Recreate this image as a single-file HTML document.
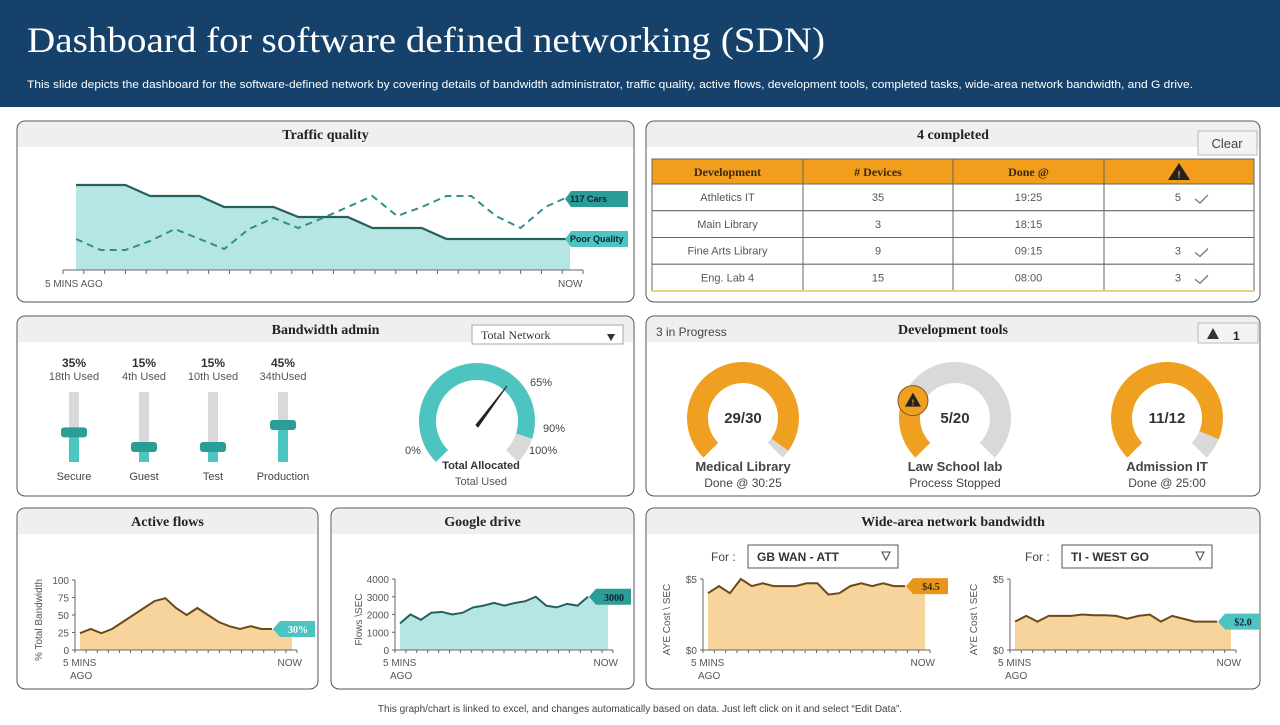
<!DOCTYPE html>
<html><head><meta charset="utf-8"><style>
body{margin:0;width:1280px;height:720px;overflow:hidden;background:#fff;font-family:"Liberation Sans",sans-serif}
svg text{font-family:"Liberation Sans",sans-serif}
</style></head><body>
<svg id="s" width="1280" height="720" viewBox="0 0 1280 720" xmlns="http://www.w3.org/2000/svg">
<rect x="0" y="0" width="1280" height="107" fill="#15416b"/>
<text x="27" y="52" font-size="36" fill="#fff" textLength="798" lengthAdjust="spacingAndGlyphs" style="font-family:'Liberation Serif',serif">Dashboard for software defined networking (SDN)</text>
<text x="27" y="88" font-size="11" fill="#fff" textLength="1166" lengthAdjust="spacingAndGlyphs">This slide depicts the dashboard for the software-defined network by covering details of bandwidth administrator, traffic quality, active flows, development tools, completed tasks, wide-area network bandwidth, and G drive.</text>
<text x="640" y="712" font-size="10" fill="#444" text-anchor="middle">This graph/chart is linked to excel, and changes automatically based on data. Just left click on it and select “Edit Data”.</text>
<g id="panels"></g>
<g id="content"></g>
</svg>
<script>
// ---- data ----
const trafficX = 21;
const trafficQuality = [85,85,85,74,74,74,63,63,63,53,53,53,42,42,42,31,31,31,31,31,31];
const trafficCars = [31,20,20,29,41,31,21,41,52,42,52,63,74,54,63,74,74,54,42,63,74];
const tableRows = [["Athletics IT","35","19:25","5"],["Main Library","3","18:15",""],["Fine Arts Library","9","09:15","3"],["Eng. Lab 4","15","08:00","3"]];
const sliderNames = ["Secure","Guest","Test","Production"];
const sliderPct = [35,15,15,45];
const sliderUsed = ["18th Used","4th Used","10th Used","34thUsed"];
const gaugeAllocated = 90;
const gaugeNeedle = 65;
const devNames = ["Medical Library","Law School lab","Admission  IT"];
const devSub = ["Done @ 30:25","Process Stopped","Done @ 25:00"];
const devDone = [29,5,11];
const devTotal = [30,20,12];
const activeFlows = [24,30,24,30,40,50,60,70,74,60,50,60,50,40,34,30,34,30,30];
const gdrive = [1500,2000,1700,2100,2150,2000,2100,2400,2500,2650,2500,2650,2750,3000,2500,2400,2600,2500,3000];
const wan1 = [4,4.5,4,5,4.5,4.7,4.5,4.5,4.5,4.7,4.7,3.9,4,4.5,4.7,4.5,4.7,4.5,4.5];
const wan2 = [2,2.4,2,2.4,2.4,2.4,2.5,2.45,2.45,2.4,2.2,2.4,2.5,2,2.4,2.2,2,2,2];
const afTicks = [0,25,50,75,100];
const gdTicks = [0,1000,2000,3000,4000];

const NS="http://www.w3.org/2000/svg";
function mk(tag,attrs,parent,txt){const e=document.createElementNS(NS,tag);for(const k in attrs)e.setAttribute(k,attrs[k]);if(txt!==undefined)e.textContent=txt;(parent||document.getElementById('content')).appendChild(e);return e;}
const P=document.getElementById('panels');

function panel(x,y,w,h,title,name){
  const g=mk('g',{},P);
  
  
  mk('rect',{x:x,y:y,width:w,height:h,rx:8,fill:'#fff',stroke:'#555','stroke-width':1},g);
  mk('path',{d:`M${x+1} ${y+26} L${x+1} ${y+8} Q${x+1} ${y+1} ${x+8} ${y+1} L${x+w-8} ${y+1} Q${x+w-1} ${y+1} ${x+w-1} ${y+8} L${x+w-1} ${y+26} Z`,fill:'#efefef'},g);
  const t=mk('text',{x:x+w/2,y:y+18,'font-size':14,'font-weight':'bold','text-anchor':'middle',fill:'#222',style:"font-family:'Liberation Serif',serif"},g,title);
  
  
}
panel(17,121,617,181,'Traffic quality','traffic-quality-panel');
panel(646,121,614,181,'4 completed','completed-panel');
panel(17,316,617,180,'Bandwidth admin','bandwidth-admin-panel');
panel(646,316,614,180,'Development tools','development-tools-panel');
panel(17,508,301,181,'Active flows','active-flows-panel');
panel(331,508,303,181,'Google drive','google-drive-panel');
panel(646,508,614,181,'Wide-area network bandwidth','wan-bandwidth-panel');

// ---- traffic quality ----
(function(){
  const x0=76,x1=570,y0=270,sc=1;
  const xs=i=>x0+(x1-x0)*i/(trafficX-1), ys=v=>y0-v*sc;
  let d=`M${xs(0)} ${y0}`;trafficQuality.forEach((v,i)=>d+=` L${xs(i)} ${ys(v)}`);d+=` L${xs(trafficX-1)} ${y0} Z`;
  const a=mk('path',{d:d,fill:'#b6e6e4'});
  
  
  const l=mk('polyline',{points:trafficQuality.map((v,i)=>xs(i)+','+ys(v)).join(' '),fill:'none',stroke:'#25605e','stroke-width':2.2});
  
  
  const c=mk('polyline',{points:trafficCars.map((v,i)=>xs(i)+','+ys(v)).join(' '),fill:'none',stroke:'#2f8f8c','stroke-width':2,'stroke-dasharray':'7,5'});
  
  
  mk('line',{x1:63,y1:270,x2:583,y2:270,stroke:'#666'});
  for(let i=0;i<=25;i++){mk('line',{x1:63+i*20.8,y1:270,x2:63+i*20.8,y2:274,stroke:'#666'});}
  const t1=mk('text',{x:45,y:287,'font-size':10,fill:'#555'},null,'5 MINS AGO');
  
  
  const t2=mk('text',{x:558,y:287,'font-size':10,fill:'#555'},null,'NOW');
  
  
  function tag(y,txt,col,name){const g=mk('g',{});
    mk('path',{d:`M565 ${y} L571 ${y-8} L628 ${y-8} L628 ${y+8} L571 ${y+8} Z`,fill:col},g);
    mk('text',{x:570,y:y+3,'font-size':9,'font-weight':'bold',fill:'#123'},g,txt);}
  tag(ys(trafficCars[trafficX-1])+3,'117 Cars','#2a9d96','cars-tag');
  tag(ys(trafficQuality[trafficX-1]),'Poor Quality','#4dc4c0','poor-quality-tag');
})();

// ---- table ----
(function(){
  const cols=[652,803,953,1104,1254];
  const clr=mk('g',{});
  mk('rect',{x:1198,y:131,width:59,height:24,fill:'#f3f3f3',stroke:'#bbb'},clr);
  mk('text',{x:1227,y:148,'font-size':13,fill:'#444','text-anchor':'middle'},clr,'Clear');
  mk('rect',{x:652,y:159,width:602,height:25,fill:'#f29d1c',stroke:'#666'});
  const hd=['Development','# Devices','Done @'];
  hd.forEach((h,i)=>{const t=mk('text',{x:(cols[i]+cols[i+1])/2,y:176,'font-size':12,'font-weight':'bold','text-anchor':'middle',fill:'#3a2a10',style:"font-family:'Liberation Serif',serif"},null,h);
    });
  mk('path',{d:'M1179 163 L1190 180 L1168 180 Z',fill:'#222'});
  mk('text',{x:1179,y:178,'font-size':10,'font-weight':'bold','text-anchor':'middle',fill:'#f29d1c'},null,'!');
  tableRows.forEach((r,j)=>{const y=184+j*26.75;
    const g=mk('g',{});
    mk('rect',{x:652,y:y,width:602,height:26.75,fill:'#fff',stroke:'#666'},g);
    for(let i=0;i<3;i++)mk('text',{x:(cols[i]+cols[i+1])/2,y:y+17,'font-size':11,'text-anchor':'middle',fill:'#555'},g,r[i]);
    if(r[3]){mk('text',{x:1181,y:y+17,'font-size':11,'text-anchor':'end',fill:'#555'},g,r[3]);
      mk('path',{d:`M1195 ${y+15} L1200 ${y+19} L1208 ${y+11}`,fill:'none',stroke:'#777','stroke-width':1.3},g);}
  });
  for(let i=1;i<4;i++)mk('line',{x1:cols[i],y1:159,x2:cols[i],y2:291,stroke:'#666'});
  mk('line',{x1:652,y1:291,x2:1254,y2:291,stroke:'#f0d080','stroke-width':2});
})();

// ---- bandwidth admin ----
(function(){
  const dd=mk('g',{});
  mk('rect',{x:472,y:325,width:151,height:19,fill:'#fff',stroke:'#aaa'},dd);
  mk('text',{x:481,y:339,'font-size':12,fill:'#333',style:"font-family:'Liberation Serif',serif"},dd,'Total Network');
  mk('path',{d:'M607 334 L615 334 L611 341 Z',fill:'#333'},dd);
  const cx=[74,144,213,283];
  sliderPct.forEach((p,i)=>{
    const g=mk('g',{});
    mk('text',{x:cx[i],y:367,'font-size':12,'font-weight':'bold','text-anchor':'middle',fill:'#333'},g,p+'%');
    mk('text',{x:cx[i],y:380,'font-size':11,'text-anchor':'middle',fill:'#555'},g,sliderUsed[i]);
    mk('rect',{x:cx[i]-5,y:392,width:10,height:70,fill:'#d9d9d9'},g);
    const yc=Math.min(447, 462-15-(p-15)*(447-425)/30);
    mk('rect',{x:cx[i]-5,y:yc,width:10,height:462-yc,fill:'#4dc4c0'},g);
    mk('rect',{x:cx[i]-13,y:yc-5,width:26,height:10,rx:3,fill:'#2a9d96'},g);
    mk('text',{x:cx[i],y:480,'font-size':11,'text-anchor':'middle',fill:'#444'},g,sliderNames[i]);
  });
  const gx=477,gy=421,ro=58,ri=41;
  function arc(p0,p1,col,name){const a0=(225-270*p0)*Math.PI/180,a1=(225-270*p1)*Math.PI/180;
    const large=(p1-p0)*270>180?1:0;
    const P=(r,a)=>(gx+r*Math.cos(a))+' '+(gy-r*Math.sin(a));
    const e=mk('path',{d:`M${P(ro,a0)} A${ro} ${ro} 0 ${large} 1 ${P(ro,a1)} L${P(ri,a1)} A${ri} ${ri} 0 ${large} 0 ${P(ri,a0)} Z`,fill:col});
    }
  arc(0,gaugeAllocated/100,'#4dc4c0','gauge-allocated');
  arc(gaugeAllocated/100,1,'#d9d9d9','gauge-remaining');
  const na=(225-270*gaugeNeedle/100)*Math.PI/180;
  const nd=mk('path',{d:`M${gx+1} ${gy+6} L${gx+46*Math.cos(na)} ${gy-46*Math.sin(na)} L${gx-1} ${gy+4} Z`,fill:'#222',stroke:'#222','stroke-width':1});
  
  mk('text',{x:530,y:386,'font-size':11,fill:'#444'},null,gaugeNeedle+'%');
  mk('text',{x:543,y:432,'font-size':11,fill:'#444'},null,gaugeAllocated+'%');
  mk('text',{x:529,y:454,'font-size':11,fill:'#444'},null,'100%');
  mk('text',{x:405,y:454,'font-size':11,fill:'#444'},null,'0%');
  mk('text',{x:481,y:469,'font-size':11,'font-weight':'bold','text-anchor':'middle',fill:'#333'},null,'Total Allocated');
  mk('text',{x:481,y:485,'font-size':11,'text-anchor':'middle',fill:'#555'},null,'Total Used');
})();

// ---- dev tools ----
(function(){
  mk('text',{x:656,y:336,'font-size':12,fill:'#444'},null,'3 in Progress');
  const w=mk('g',{});
  mk('rect',{x:1198,y:323,width:60,height:20,fill:'#f3f3f3',stroke:'#bbb'},w);
  mk('path',{d:'M1213 328 L1219 339 L1207 339 Z',fill:'#333'},w);
  mk('text',{x:1233,y:340,'font-size':12,'font-weight':'bold',fill:'#222'},w,'1');
  const cx=[743,955,1167],gy=418,ro=56,ri=35;
  devDone.forEach((dn,i)=>{
    const g=mk('g',{});
    const gx=cx[i];const p=dn/devTotal[i];
    const P=(r,a)=>(gx+r*Math.cos(a))+' '+(gy-r*Math.sin(a));
    function arc(p0,p1,col){const a0=(225-270*p0)*Math.PI/180,a1=(225-270*p1)*Math.PI/180;const large=(p1-p0)*270>180?1:0;
      mk('path',{d:`M${P(ro,a0)} A${ro} ${ro} 0 ${large} 1 ${P(ro,a1)} L${P(ri,a1)} A${ri} ${ri} 0 ${large} 0 ${P(ri,a0)} Z`,fill:col},g);}
    arc(0,p,'#f0a020');arc(p,1,'#d9d9d9');
    mk('text',{x:gx,y:423,'font-size':15,'font-weight':'bold','text-anchor':'middle',fill:'#333'},g,dn+'/'+devTotal[i]);
    mk('text',{x:gx,y:471,'font-size':13,'font-weight':'bold','text-anchor':'middle',fill:'#444'},g,devNames[i]);
    mk('text',{x:gx,y:487,'font-size':12,'text-anchor':'middle',fill:'#444'},g,devSub[i]);
    if(devDone[i]/devTotal[i]<0.5){const a=(225-270*p)*Math.PI/180;const wx=gx+(ro+ri)/2*Math.cos(a),wy=gy-(ro+ri)/2*Math.sin(a);
      mk('circle',{cx:wx,cy:wy,r:15,fill:'#f0a020',stroke:'#7a5a20'},g);
      mk('path',{d:`M${wx} ${wy-8} L${wx+8} ${wy+6} L${wx-8} ${wy+6} Z`,fill:'#222'},g);
      mk('text',{x:wx,y:wy+5,'font-size':8,'font-weight':'bold','text-anchor':'middle',fill:'#f0a020'},g,'!');}
  });
})();

// ---- small area charts ----
function area(cfg){
  const {vals,ax,x0,x1,xe,y0,y1,max,fill,line,ticks,tickFmt,ylabel,tag,tagCol,tagTxt,name}=cfg;
  const xs=i=>x0+(x1-x0)*i/(vals.length-1), ys=v=>y0-(y0-y1)*v/max;
  let d=`M${x0} ${y0}`;vals.forEach((v,i)=>d+=` L${xs(i)} ${ys(v)}`);d+=` L${xe} ${ys(vals[vals.length-1])} L${xe} ${y0} Z`;
  const a=mk('path',{d:d,fill:fill});
  const l=mk('polyline',{points:vals.map((v,i)=>xs(i)+','+ys(v)).join(' '),fill:'none',stroke:line,'stroke-width':2});
  
  mk('line',{x1:ax,y1:y1,x2:ax,y2:y0,stroke:'#666'});
  mk('line',{x1:ax,y1:y0,x2:xe+5,y2:y0,stroke:'#666'});
  for(let i=0;i<=20;i++){const x=ax+(xe+5-ax)*i/20;mk('line',{x1:x,y1:y0,x2:x,y2:y0+3,stroke:'#666'});}
  ticks.forEach(t=>{mk('line',{x1:ax-3,y1:ys(t),x2:ax,y2:ys(t),stroke:'#666'});
    const tt=mk('text',{x:ax-6,y:ys(t)+4,'font-size':10,'text-anchor':'end',fill:'#555'},null,tickFmt(t));
    });
  const yl=mk('text',{x:0,y:0,'font-size':10,'text-anchor':'middle',fill:'#555',transform:`translate(${ax-33},${(y0+y1)/2+5}) rotate(-90)`},null,ylabel);
  
  mk('text',{x:ax-12,y:y0+16,'font-size':10,fill:'#555'},null,'5 MINS');
  mk('text',{x:ax-5,y:y0+29,'font-size':10,fill:'#555'},null,'AGO');
  mk('text',{x:xe+10,y:y0+16,'font-size':10,'text-anchor':'end',fill:'#555'},null,'NOW');
  const ty=ys(vals[vals.length-1]);const tx=xs(vals.length-1)+1;
  const g=mk('g',{});
  mk('path',{d:`M${tx} ${ty} L${tx+7} ${ty-8} L${tx+42} ${ty-8} L${tx+42} ${ty+8} L${tx+7} ${ty+8} Z`,fill:tagCol},g);
  mk('text',{x:tx+25,y:ty+4,'font-size':10,'font-weight':'bold','text-anchor':'middle',fill:tag,style:"font-family:'Liberation Serif',serif"},g,tagTxt);
}
area({vals:activeFlows,ax:75,x0:80,x1:272,xe:292,y0:650,y1:580,max:100,fill:'#f6d49c',line:'#6b4a1a',ticks:afTicks,tickFmt:t=>t,ylabel:'% Total Bandwidth',tag:'#fff',tagCol:'#4dc4c0',tagTxt:activeFlows[activeFlows.length-1]+'%',name:'active-flows'});
area({vals:gdrive,ax:395,x0:400,x1:588,xe:608,y0:650,y1:579,max:4000,fill:'#b6e6e4',line:'#25605e',ticks:gdTicks,tickFmt:t=>t,ylabel:'Flows \\SEC',tag:'#123',tagCol:'#2a9d96',tagTxt:gdrive[gdrive.length-1],name:'google-drive'});
area({vals:wan1,ax:703,x0:708,x1:905,xe:925,y0:650,y1:579,max:5,fill:'#f6d49c',line:'#6b4a1a',ticks:[0,5],tickFmt:t=>'$'+t,ylabel:'AYE Cost \\ SEC',tag:'#3a2a10',tagCol:'#e8961a',tagTxt:'$'+wan1[wan1.length-1].toFixed(1),name:'wan-att'});
area({vals:wan2,ax:1010,x0:1015,x1:1217,xe:1231,y0:650,y1:579,max:5,fill:'#f6d49c',line:'#6b4a1a',ticks:[0,5],tickFmt:t=>'$'+t,ylabel:'AYE Cost \\ SEC',tag:'#123',tagCol:'#4dc4c0',tagTxt:'$'+wan2[wan2.length-1].toFixed(1),name:'wan-west'});
[[748,'GB WAN - ATT',711],[1062,'TI - WEST GO',1025]].forEach(([x,t,fx],i)=>{
  mk('text',{x:fx,y:561,'font-size':12,fill:'#444'},null,'For :');
  const g=mk('g',{});
  mk('rect',{x:x,y:545,width:150,height:23,fill:'#fff',stroke:'#555'},g);
  mk('text',{x:x+9,y:561,'font-size':12,'font-weight':'bold',fill:'#333'},g,t);
  mk('path',{d:`M${x+134} 552 L${x+142} 552 L${x+138} 560 Z`,fill:'none',stroke:'#444'},g);
});
</script>
</body></html>
